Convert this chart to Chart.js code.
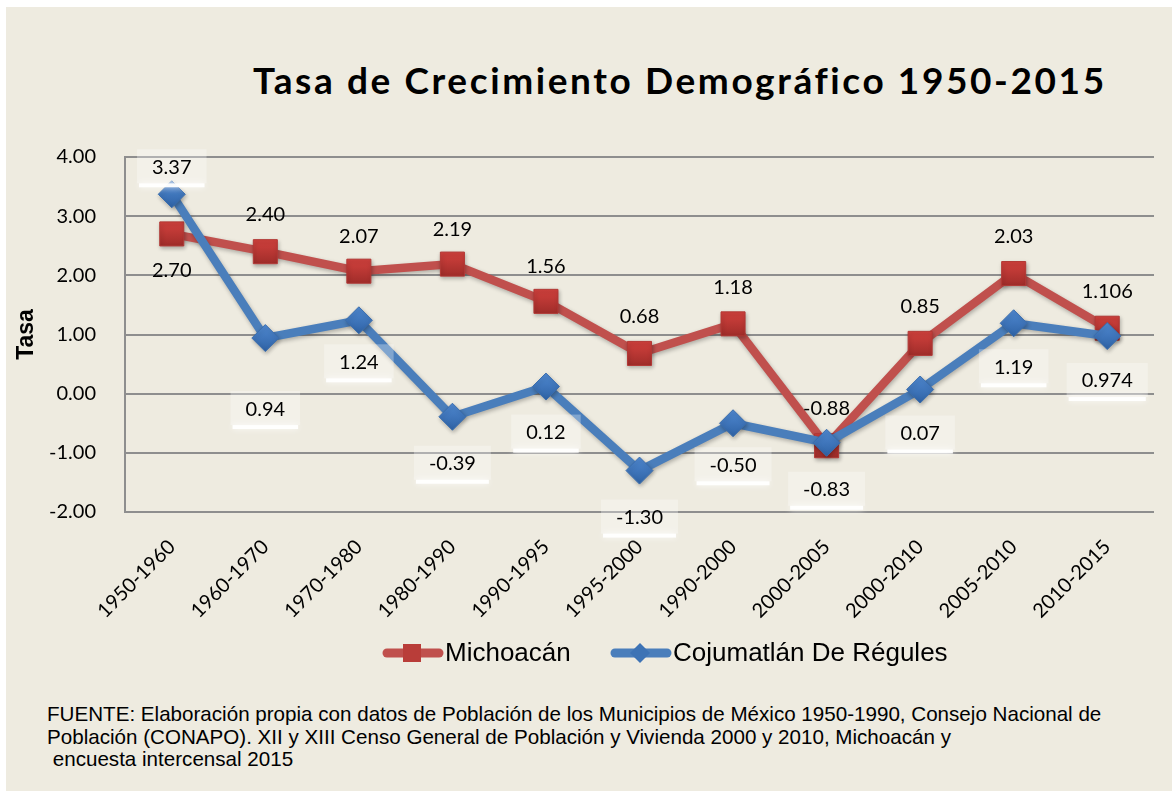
<!DOCTYPE html>
<html>
<head>
<meta charset="utf-8">
<script src="https://cdn.jsdelivr.net/npm/chart.js@4.4.1/dist/chart.umd.min.js"></script>
<style>
  html,body{margin:0;padding:0;background:#ffffff;}
  #frame{position:absolute;left:6px;top:7px;width:1166px;height:784px;background:#EEEBE0;}
  #title{position:absolute;left:253px;top:57px;font-family:Lato,"Open Sans",sans-serif;font-weight:700;font-size:37px;color:#000;white-space:nowrap;letter-spacing:2.6px;}
  #wrap{position:absolute;left:0;top:0;width:1172px;height:690px;}
  #footer{position:absolute;left:47px;top:703px;font-family:"Liberation Sans",Arial,sans-serif;font-size:20.6px;line-height:22.5px;color:#000;white-space:pre;}
</style>
</head>
<body>
<div id="frame"></div>
<div id="title">Tasa de Crecimiento Demográfico 1950-2015</div>
<div id="wrap"><canvas id="c" width="1172" height="690"></canvas></div>
<div id="footer">FUENTE: Elaboración propia con datos de Población de los Municipios de México 1950-1990, Consejo Nacional de
Población (CONAPO). XII y XIII Censo General de Población y Vivienda 2000 y 2010, Michoacán y
 encuesta intercensal 2015</div>
<script>
const categories = ["1950-1960","1960-1970","1970-1980","1980-1990","1990-1995","1995-2000","1990-2000","2000-2005","2000-2010","2005-2010","2010-2015"];
const michoacan = [2.70, 2.40, 2.07, 2.19, 1.56, 0.68, 1.18, -0.88, 0.85, 2.03, 1.106];
const cojumatlan = [3.37, 0.94, 1.24, -0.39, 0.12, -1.30, -0.50, -0.83, 0.07, 1.19, 0.974];
const michoacanLabels = ["2.70","2.40","2.07","2.19","1.56","0.68","1.18","-0.88","0.85","2.03","1.106"];
const cojumatlanLabels = ["3.37","0.94","1.24","-0.39","0.12","-1.30","-0.50","-0.83","0.07","1.19","0.974"];
const yTicks = [4, 3, 2, 1, 0, -1, -2];

const RED = '#C0504D', BLUE = '#4A7EBB';

// label placement (pixel offsets from point, style only)
const redOffsets = [37,-37,-35,-35,-35,-37,-36,-37,-37,-37,-37];
const blueOffsets = [-27,71,42,47,46,47,42,47,44,44,45];

function markerGradient(top, bottom){
  return function(context){
    const chart = context.chart;
    const ys = chart.scales && chart.scales.y;
    if (!ys || typeof context.raw !== 'number') return bottom;
    const py = ys.getPixelForValue(context.raw);
    if (!isFinite(py)) return bottom;
    const g = chart.ctx.createLinearGradient(0, py-13, 0, py+13);
    g.addColorStop(0, top); g.addColorStop(1, bottom);
    return g;
  };
}

const shadowPlugin = {
  id:'shadow',
  beforeDatasetsDraw(chart){ const c=chart.ctx; c.save(); c.shadowColor='rgba(0,0,0,0.28)'; c.shadowBlur=4; c.shadowOffsetY=2; c.shadowOffsetX=1; },
  afterDatasetsDraw(chart){ chart.ctx.restore(); }
};

const labelPlugin = {
  id:'vlabels',
  afterDatasetsDraw(chart){
    const c = chart.ctx;
    c.save();
    c.font = '20px Lato, "Open Sans", sans-serif';
    c.textAlign='center'; c.textBaseline='middle';
    chart.data.datasets.forEach((ds, di)=>{
      const meta = chart.getDatasetMeta(di);
      meta.data.forEach((pt, i)=>{
        const txt = ds.labelTexts[i];
        const x = pt.x, y = pt.y + ds.labelOffsets[i];
        if (ds.labelBox){
          const w = c.measureText(txt).width + 30;
          c.fillStyle='rgba(255,255,255,0.3)';
          c.fillRect(x-w/2, y-18, w, 34);
          c.save();
          c.shadowColor='rgba(255,255,255,0.9)'; c.shadowBlur=6;
          c.fillStyle='rgba(255,255,255,0.95)';
          c.fillRect(x-w/2+2, y+16, w-4, 4);
          c.restore();
        }
        c.fillStyle='#000';
        c.fillText(txt, x, y);
      });
    });
    c.restore();
  }
};

const legendPlugin = {
  id:'customLegend',
  afterDraw(chart){
    const c = chart.ctx;
    c.save();
    const y = 653;
    c.lineCap='round';
    c.strokeStyle=RED; c.lineWidth=9;
    c.beginPath(); c.moveTo(387,y); c.lineTo(439,y); c.stroke();
    c.fillStyle='#B93D39'; c.fillRect(403,y-9,18,18);
    c.strokeStyle=BLUE;
    c.beginPath(); c.moveTo(615,y); c.lineTo(667,y); c.stroke();
    c.fillStyle='#3D73B5';
    c.beginPath(); c.moveTo(640,y-10); c.lineTo(650,y); c.lineTo(640,y+10); c.lineTo(630,y); c.closePath(); c.fill();
    c.fillStyle='#000'; c.font='26px "Liberation Sans", Arial, sans-serif';
    c.textAlign='left'; c.textBaseline='middle';
    c.fillText('Michoacán', 445, y+1);
    c.fillText('Cojumatlán De Régules', 673, y+1);
    c.restore();
  }
};

new Chart(document.getElementById('c'), {
  type:'line',
  data:{
    labels: categories,
    datasets:[
      {label:'Michoacán', data:michoacan, order:2, borderColor:RED, borderWidth:8.5, backgroundColor:'#BC3E3A',
       pointStyle:'rect', pointRadius:17, pointHoverRadius:17,
       pointBackgroundColor:markerGradient('#D4423E','#9E2C29'), pointBorderColor:'#B23835', pointBorderWidth:1,
       tension:0, fill:false, labelTexts:michoacanLabels, labelOffsets:redOffsets, labelBox:false},
      {label:'Cojumatlán De Régules', data:cojumatlan, order:1, borderColor:BLUE, borderWidth:8.5, backgroundColor:'#3D73B5',
       pointStyle:'rectRot', pointRadius:13.5, pointHoverRadius:13.5,
       pointBackgroundColor:markerGradient('#4F88D0','#2F63A6'), pointBorderColor:'#3A6DAD', pointBorderWidth:1,
       tension:0, fill:false, labelTexts:cojumatlanLabels, labelOffsets:blueOffsets, labelBox:true}
    ]
  },
  options:{
    responsive:false, animation:false,
    layout:{padding:{top:157, left:0, right:11, bottom:0}},
    plugins:{legend:{display:false}, title:{display:false}, tooltip:{enabled:false}},
    scales:{
      x:{
        offset:true,
        grid:{display:false}, border:{display:false},
        ticks:{color:'#000', font:{family:'Lato, "Open Sans", sans-serif', size:20}, maxRotation:45, minRotation:45, padding:15, autoSkip:false},
        afterFit(s){ s.height = 178; }
      },
      y:{
        min:-2, max:4,
        afterBuildTicks(s){ s.ticks = yTicks.map(v=>({value:v})); },
        grid:{color:'#8E8E8E', lineWidth:2, drawTicks:false},
        border:{display:true, color:'#8E8E8E', width:2},
        ticks:{color:'#000', font:{family:'Lato, "Open Sans", sans-serif', size:20}, padding:29, callback:v=>v.toFixed(2)},
        title:{display:true, text:'Tasa', color:'#000', font:{family:'"Liberation Sans", Arial, sans-serif', size:23, weight:'bold'}, padding:{top:13,bottom:0}},
        afterFit(s){ s.width = 125; }
      }
    }
  },
  plugins:[shadowPlugin, labelPlugin, legendPlugin]
});
</script>
</body>
</html>
